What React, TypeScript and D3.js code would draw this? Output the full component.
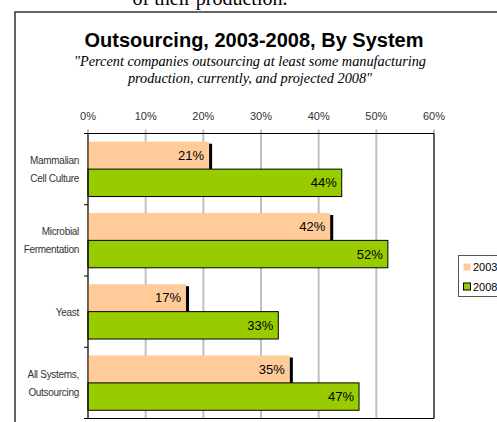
import React from "react";
import * as d3 from "d3";

const categories = ["Mammalian\nCell Culture", "Microbial\nFermentation", "Yeast", "All Systems,\nOutsourcing"];
const series = ["2003", "2008"];
const values2003 = [21, 42, 17, 35];
const values2008 = [44, 52, 33, 47];
const xTicks = [0, 10, 20, 30, 40, 50, 60];
const colors: Record<string, string> = { "2003": "#FFCC99", "2008": "#99CC00" };

const W = 497;
const H = 422;
const plot = { left: 88, right: 434, top: 133.5, bottom: 418.5 };

export default function App() {
  const x = d3.scaleLinear().domain([0, 60]).range([plot.left, plot.right]);
  const y = d3.scaleBand<string>().domain(categories).range([plot.top, plot.bottom]).padding(0);
  const sub = d3.scaleBand<string>().domain(series).range([0, y.bandwidth()]).paddingInner(0).paddingOuter(0.3);
  const sans = "Liberation Sans, Arial, sans-serif";
  const serif = "Liberation Serif, Times New Roman, serif";
  const rows = categories.map((c, i) => ({ c, v: { "2003": values2003[i], "2008": values2008[i] } as Record<string, number> }));
  const boundaries = [...categories.map((c) => y(c)!), plot.bottom];

  return (
    <svg width={W} height={H} style={{ position: "absolute", left: 0, top: 0, background: "#fff" }}>
      <text x={210} y={5} fontFamily={serif} fontSize={20} textAnchor="middle" fill="#000">of their production.</text>
      <rect x={15} y={12} width={600} height={500} fill="#fff" stroke="#333" strokeWidth={1.5} />
      <text x={254} y={47} fontFamily={sans} fontWeight="bold" fontSize={20} textAnchor="middle" fill="#000">
        Outsourcing, 2003-2008, By System
      </text>
      <text x={250} y={66} fontFamily={serif} fontStyle="italic" fontSize={14.3} textAnchor="middle" fill="#000">
        "Percent companies outsourcing at least some manufacturing
      </text>
      <text x={250} y={83} fontFamily={serif} fontStyle="italic" fontSize={14.3} textAnchor="middle" fill="#000">
        production, currently, and projected 2008"
      </text>

      {/* gridlines */}
      {xTicks.map((t) => (
        <line key={"g" + t} x1={x(t)} x2={x(t)} y1={plot.top - 4} y2={plot.bottom} stroke="#c0c0c0" strokeWidth={2} />
      ))}
      {xTicks.map((t) => (
        <text key={"t" + t} x={x(t)} y={120} fontFamily={sans} fontSize={11} textAnchor="middle" fill="#333">
          {t}%
        </text>
      ))}
      {/* plot border */}
      <line x1={plot.left} x2={plot.right} y1={plot.top} y2={plot.top} stroke="#000" strokeWidth={1} />
      <line x1={plot.right} x2={plot.right} y1={plot.top} y2={plot.bottom} stroke="#000" strokeWidth={1} />
      <line x1={plot.left} x2={plot.right} y1={plot.bottom} y2={plot.bottom} stroke="#000" strokeWidth={1} />

      {rows.map((r) =>
        series.map((s) => {
          const y0 = y(r.c)! + sub(s)!;
          const h = sub.bandwidth();
          const xe = x(r.v[s]);
          return (
            <g key={r.c + s}>
              <rect
                x={plot.left}
                y={y0}
                width={xe - plot.left}
                height={h}
                fill={colors[s]}
                stroke={s === "2008" ? "#000" : "none"}
                strokeWidth={1}
              />
              {s === "2003" && <rect x={xe} y={y0 + 2} width={3} height={h - 2} fill="#000" />}
              <text
                x={xe - 5}
                y={y0 + h / 2 + 4.5}
                fontFamily={sans}
                fontSize={13}
                textAnchor="end"
                fill="#000"
              >
                {r.v[s]}%
              </text>
            </g>
          );
        })
      )}

      {/* left axis */}
      <line x1={plot.left} x2={plot.left} y1={plot.top} y2={plot.bottom} stroke="#000" strokeWidth={1} />
      {boundaries.map((b, i) => (
        <line key={"lt" + i} x1={plot.left - 4} x2={plot.left} y1={b} y2={b} stroke="#000" strokeWidth={1} />
      ))}
      {categories.map((c) => {
        const lines = c.split("\n");
        const cy = y(c)! + y.bandwidth() / 2;
        return lines.map((ln, j) => (
          <text
            key={c + j}
            x={79}
            y={cy + (j - (lines.length - 1) / 2) * 18 + 4}
            fontFamily={sans}
            fontSize={10}
            letterSpacing={-0.3}
            textAnchor="end"
            fill="#333"
          >
            {ln}
          </text>
        ));
      })}

      {/* legend */}
      <rect x={458.5} y={255.5} width={60} height={41} fill="#fff" stroke="#555" strokeWidth={1} />
      {series.map((s, i) => (
        <g key={"l" + s}>
          <rect
            x={463.5}
            y={263.5 + i * 19.5}
            width={7}
            height={7}
            fill={colors[s]}
            stroke={s === "2008" ? "#000" : "none"}
            strokeWidth={1}
          />
          <text x={473} y={271 + i * 19.5} fontFamily={sans} fontSize={11} fill="#000">
            {s}
          </text>
        </g>
      ))}
    </svg>
  );
}
